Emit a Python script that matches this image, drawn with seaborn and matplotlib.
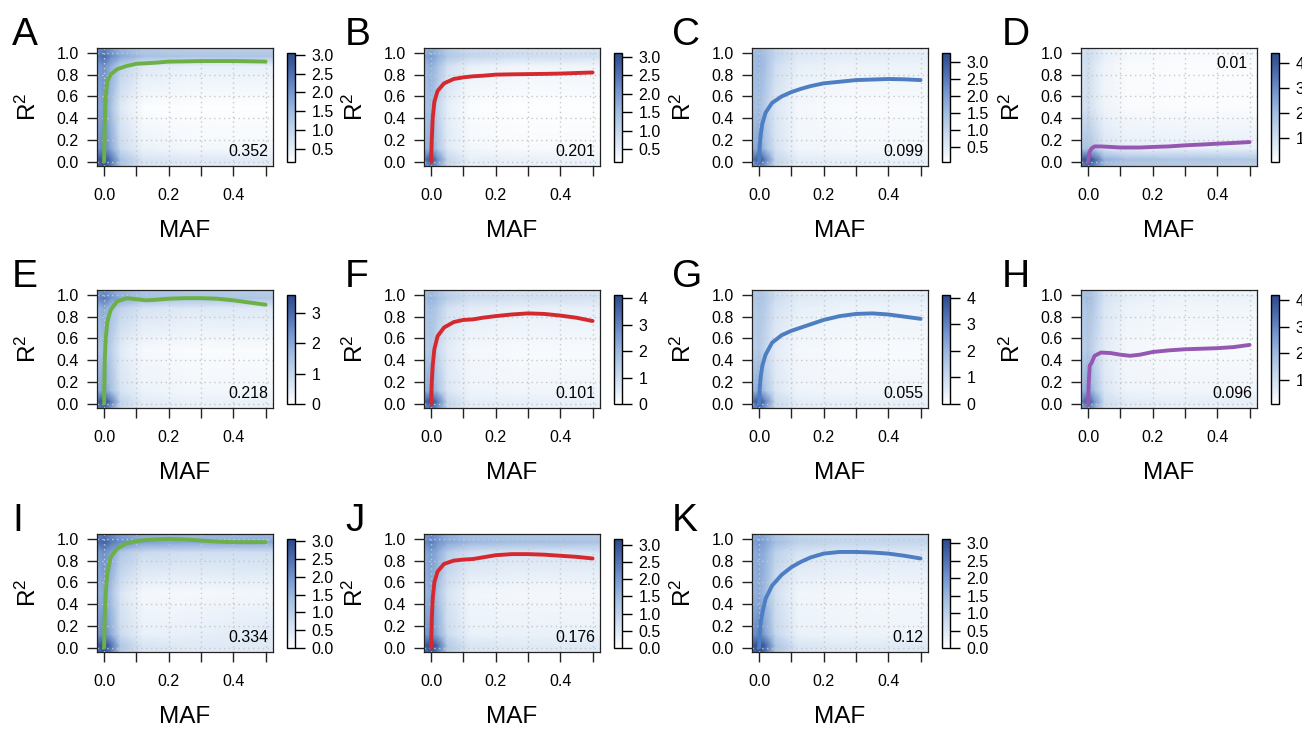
import numpy as np
import matplotlib
matplotlib.use("Agg")
import matplotlib.pyplot as plt
import seaborn as sns
from matplotlib.colors import LinearSegmentedColormap

sns.set_style("white")
plt.rcParams["font.family"] = ["Liberation Sans", "DejaVu Sans"]
plt.rcParams["mathtext.fontset"] = "custom"
plt.rcParams["mathtext.rm"] = "Liberation Sans"
plt.rcParams["mathtext.it"] = "Liberation Sans"
plt.rcParams["text.color"] = "black"
plt.rcParams["xtick.color"] = "black"
plt.rcParams["ytick.color"] = "black"

# panel names, fitted-curve colours and the number printed in each panel
letters = ["A", "B", "C", "D", "E", "F", "G", "H", "I", "J", "K"]
curve_colors = ["#6CB046", "#D42A2F", "#4C7EC1", "#9657B2",
                "#6CB046", "#D42A2F", "#4C7EC1", "#9657B2",
                "#6CB046", "#D42A2F", "#4C7EC1"]
notes = ["0.352", "0.201", "0.099", "0.01", "0.218", "0.101",
         "0.055", "0.096", "0.334", "0.176", "0.12"]

cbar_lo = [0.15, 0.15, 0.05, 0.03, 0.0, 0.0, 0.0, 0.1, 0.0, 0.0, 0.0]
cbar_hi = [3.05, 3.1, 3.25, 4.4, 3.6, 4.13, 4.1, 4.2, 3.07, 3.17, 3.12]
half_ticks = [0.5, 1.0, 1.5, 2.0, 2.5, 3.0]
half_ticks0 = [0.0, 0.5, 1.0, 1.5, 2.0, 2.5, 3.0]
cbar_ticks = [half_ticks, half_ticks, half_ticks, [1, 2, 3, 4], [0, 1, 2, 3],
              [0, 1, 2, 3, 4], [0, 1, 2, 3, 4], [1, 2, 3, 4],
              half_ticks0, half_ticks0, half_ticks0]

# fitted curves: R2 at these MAF values
curve_x = [0, 0.002, 0.005, 0.01, 0.02, 0.04, 0.07, 0.1, 0.13, 0.16, 0.2,
           0.25, 0.3, 0.35, 0.4, 0.45, 0.5]
curve_A = [0.0, 0.35, 0.6, 0.74, 0.8, 0.85, 0.88, 0.9, 0.905, 0.91, 0.92,
           0.922, 0.925, 0.925, 0.925, 0.923, 0.92]
curve_B = [0.0, 0.2, 0.4, 0.55, 0.65, 0.72, 0.76, 0.775, 0.785, 0.79, 0.8,
           0.803, 0.805, 0.807, 0.81, 0.815, 0.82]
curve_C = [0.0, 0.15, 0.25, 0.35, 0.45, 0.54, 0.6, 0.64, 0.67, 0.695, 0.72,
           0.735, 0.75, 0.755, 0.76, 0.757, 0.75]
curve_D = [0.0, 0.05, 0.09, 0.12, 0.14, 0.14, 0.135, 0.13, 0.13, 0.13, 0.135,
           0.14, 0.15, 0.157, 0.165, 0.172, 0.18]
curve_E = [0.0, 0.4, 0.6, 0.75, 0.86, 0.94, 0.97, 0.96, 0.95, 0.955, 0.965,
           0.97, 0.97, 0.965, 0.95, 0.93, 0.91]
curve_F = [0.0, 0.2, 0.35, 0.5, 0.62, 0.7, 0.75, 0.77, 0.775, 0.79, 0.805,
           0.82, 0.83, 0.825, 0.81, 0.79, 0.76]
curve_G = [0.0, 0.15, 0.25, 0.35, 0.45, 0.56, 0.63, 0.67, 0.7, 0.73, 0.77,
           0.805, 0.825, 0.83, 0.82, 0.8, 0.78]
curve_H = [0.0, 0.2, 0.35, 0.37, 0.44, 0.47, 0.465, 0.45, 0.44, 0.45, 0.475,
           0.49, 0.5, 0.505, 0.51, 0.52, 0.54]
curve_I = [0.0, 0.3, 0.5, 0.68, 0.83, 0.91, 0.96, 0.98, 0.99, 0.995, 1.0,
           0.995, 0.985, 0.975, 0.97, 0.97, 0.97]
curve_J = [0.0, 0.25, 0.45, 0.6, 0.7, 0.77, 0.8, 0.81, 0.815, 0.83, 0.85,
           0.86, 0.86, 0.855, 0.845, 0.835, 0.82]
curve_K = [0.0, 0.12, 0.23, 0.32, 0.45, 0.57, 0.67, 0.74, 0.79, 0.83, 0.865,
           0.88, 0.88, 0.875, 0.865, 0.845, 0.82]

# smoothed point density, sampled at these MAF / R2 grid nodes (rows = R2, bottom to top)
dens_x = [-0.022, 0.0, 0.02, 0.05, 0.12, 0.25, 0.523]
dens_y = [-0.04, 0.02, 0.12, 0.5, 0.88, 0.97, 1.045]
dens_A = [[2.5, 2.9, 2.3, 1.3, 0.7, 0.55, 0.5],
          [2.7, 3.0, 2.5, 1.4, 0.7, 0.6, 0.55],
          [2.0, 2.3, 1.8, 0.9, 0.4, 0.3, 0.3],
          [1.7, 1.9, 1.4, 0.6, 0.2, 0.18, 0.18],
          [1.9, 2.1, 1.7, 1.1, 0.6, 0.45, 0.45],
          [2.3, 2.6, 2.2, 1.8, 1.4, 1.3, 1.3],
          [2.0, 2.2, 1.9, 1.5, 1.2, 1.1, 1.1]]
dens_B = [[1.8, 2.4, 1.8, 0.9, 0.45, 0.4, 0.4],
          [2.3, 3.05, 2.2, 1.0, 0.5, 0.45, 0.4],
          [1.5, 1.8, 1.3, 0.6, 0.3, 0.25, 0.25],
          [1.3, 1.5, 1.0, 0.5, 0.2, 0.18, 0.18],
          [1.5, 1.7, 1.4, 0.8, 0.45, 0.35, 0.35],
          [1.8, 2.0, 1.7, 1.3, 1.0, 0.85, 0.75],
          [1.5, 1.7, 1.5, 1.1, 0.85, 0.75, 0.65]]
dens_C = [[1.8, 2.4, 1.9, 0.9, 0.4, 0.35, 0.35],
          [2.4, 3.2, 2.4, 1.0, 0.45, 0.4, 0.35],
          [1.6, 2.0, 1.4, 0.7, 0.25, 0.2, 0.2],
          [1.3, 1.5, 1.1, 0.6, 0.2, 0.15, 0.15],
          [1.4, 1.6, 1.4, 0.8, 0.4, 0.3, 0.3],
          [1.4, 1.6, 1.4, 1.0, 0.55, 0.45, 0.4],
          [1.3, 1.5, 1.3, 0.9, 0.5, 0.4, 0.35]]
dens_D = [[3.0, 3.6, 3.0, 1.9, 1.6, 1.5, 1.4],
          [3.8, 4.4, 3.8, 2.3, 1.9, 1.8, 1.7],
          [1.7, 1.9, 1.5, 0.8, 0.55, 0.5, 0.5],
          [0.9, 1.0, 0.7, 0.35, 0.15, 0.12, 0.12],
          [0.9, 1.0, 0.7, 0.35, 0.15, 0.12, 0.12],
          [1.0, 1.1, 0.9, 0.5, 0.25, 0.2, 0.2],
          [0.9, 1.0, 0.8, 0.45, 0.2, 0.15, 0.15]]
dens_E = [[2.4, 3.0, 2.2, 0.9, 0.45, 0.35, 0.35],
          [3.0, 3.6, 2.8, 1.1, 0.45, 0.35, 0.35],
          [1.8, 2.2, 1.6, 0.7, 0.3, 0.2, 0.2],
          [1.4, 1.6, 1.2, 0.5, 0.15, 0.1, 0.1],
          [1.7, 2.0, 1.6, 1.1, 0.7, 0.55, 0.55],
          [2.4, 2.8, 2.4, 2.0, 1.6, 1.5, 1.4],
          [2.1, 2.4, 2.1, 1.7, 1.4, 1.3, 1.2]]
dens_F = [[2.6, 3.4, 2.6, 1.1, 0.5, 0.4, 0.4],
          [3.4, 4.1, 3.2, 1.2, 0.5, 0.45, 0.4],
          [2.0, 2.4, 1.7, 0.7, 0.3, 0.25, 0.25],
          [1.4, 1.6, 1.1, 0.55, 0.2, 0.15, 0.15],
          [1.6, 1.8, 1.5, 0.9, 0.55, 0.45, 0.45],
          [1.8, 2.1, 1.8, 1.4, 1.0, 0.9, 0.8],
          [1.6, 1.9, 1.6, 1.2, 0.9, 0.8, 0.7]]
dens_G = [[2.4, 3.2, 2.4, 1.0, 0.5, 0.4, 0.4],
          [3.2, 4.1, 3.0, 1.1, 0.5, 0.45, 0.4],
          [1.9, 2.3, 1.6, 0.7, 0.3, 0.25, 0.25],
          [1.3, 1.5, 1.1, 0.55, 0.2, 0.15, 0.15],
          [1.4, 1.6, 1.4, 0.8, 0.45, 0.35, 0.35],
          [1.5, 1.7, 1.5, 1.0, 0.6, 0.5, 0.5],
          [1.4, 1.6, 1.4, 0.9, 0.5, 0.4, 0.4]]
dens_H = [[2.2, 3.0, 2.2, 1.0, 0.6, 0.5, 0.5],
          [3.0, 4.1, 2.8, 1.1, 0.65, 0.55, 0.55],
          [2.0, 2.5, 1.8, 0.8, 0.4, 0.35, 0.35],
          [1.4, 1.6, 1.2, 0.65, 0.3, 0.25, 0.25],
          [1.5, 1.8, 1.5, 0.8, 0.45, 0.35, 0.35],
          [1.7, 2.0, 1.6, 0.9, 0.55, 0.45, 0.45],
          [1.6, 1.8, 1.5, 0.8, 0.5, 0.4, 0.4]]
dens_I = [[2.4, 2.9, 2.3, 1.1, 0.55, 0.45, 0.45],
          [2.7, 3.07, 2.6, 1.2, 0.55, 0.45, 0.45],
          [1.9, 2.2, 1.7, 0.8, 0.3, 0.3, 0.45],
          [1.5, 1.7, 1.3, 0.55, 0.15, 0.12, 0.2],
          [1.8, 2.1, 1.8, 1.2, 0.8, 0.7, 0.7],
          [2.4, 2.7, 2.4, 2.1, 1.8, 1.7, 1.7],
          [2.1, 2.4, 2.1, 1.8, 1.5, 1.4, 1.4]]
dens_J = [[2.4, 3.0, 2.3, 1.1, 0.55, 0.45, 0.45],
          [2.8, 3.17, 2.7, 1.2, 0.55, 0.45, 0.45],
          [1.9, 2.2, 1.7, 0.8, 0.3, 0.3, 0.3],
          [1.5, 1.7, 1.3, 0.6, 0.2, 0.15, 0.15],
          [1.7, 2.0, 1.7, 1.1, 0.7, 0.6, 0.6],
          [2.1, 2.4, 2.1, 1.8, 1.5, 1.4, 1.3],
          [1.9, 2.1, 1.9, 1.6, 1.3, 1.2, 1.1]]
dens_K = [[2.5, 3.0, 2.4, 1.2, 0.55, 0.45, 0.45],
          [2.8, 3.12, 2.7, 1.3, 0.55, 0.45, 0.45],
          [2.0, 2.3, 1.8, 0.9, 0.3, 0.25, 0.25],
          [1.5, 1.7, 1.4, 0.7, 0.2, 0.15, 0.15],
          [1.6, 1.8, 1.6, 1.0, 0.6, 0.5, 0.5],
          [1.8, 2.0, 1.8, 1.4, 1.0, 0.9, 0.9],
          [1.6, 1.8, 1.6, 1.2, 0.9, 0.8, 0.8]]

curves = [curve_A, curve_B, curve_C, curve_D, curve_E, curve_F,
          curve_G, curve_H, curve_I, curve_J, curve_K]
dens = [dens_A, dens_B, dens_C, dens_D, dens_E, dens_F,
        dens_G, dens_H, dens_I, dens_J, dens_K]

cmap = LinearSegmentedColormap.from_list(
    "smooth_blues",
    [(0.0, "#ffffff"), (0.1, "#e8f0f9"), (0.25, "#cbdbef"),
     (0.45, "#a2bee2"), (0.65, "#7296ce"), (0.85, "#4667aa"), (1.0, "#2c4a8c")])

W, H = 1302, 730
fig = plt.figure(figsize=(W / 100, H / 100), dpi=100)


def px_box(left, top, w, h):
    return [left / W, 1 - (top + h) / H, w / W, h / H]


col_left = [97, 424, 752, 1081]
row_top = [48, 290, 534]
letter_x = [12, 345, 672, 1002]
ax_w, ax_h = 176, 118
edge = "#222222"

X, Y = np.meshgrid(dens_x, dens_y)

for i, name in enumerate(letters):
    r, c = divmod(i, 4)
    left, top = col_left[c], row_top[r]
    ax = fig.add_axes(px_box(left, top, ax_w, ax_h))
    mesh = ax.pcolormesh(X, Y, np.array(dens[i]), shading="gouraud", cmap=cmap,
                         vmin=cbar_lo[i], vmax=cbar_hi[i], rasterized=True)
    for gx in [0, 0.1, 0.2, 0.3, 0.4, 0.5]:
        ax.axvline(gx, color="#c8c8c8", lw=1, ls=(0, (1, 2.5)), zorder=2)
    for gy in [0, 0.2, 0.4, 0.6, 0.8, 1.0]:
        ax.axhline(gy, color="#c8c8c8", lw=1, ls=(0, (1, 2.5)), zorder=2)
    sns.lineplot(x=curve_x, y=curves[i], color=curve_colors[i], lw=2.8, ax=ax, zorder=3)
    ax.set_xlim(-0.022, 0.523)
    ax.set_ylim(-0.04, 1.045)
    ax.set_xticks([0, 0.1, 0.2, 0.3, 0.4, 0.5])
    ax.set_xticklabels(["0.0", "", "0.2", "", "0.4", ""])
    ax.set_yticks([0, 0.2, 0.4, 0.6, 0.8, 1.0])
    ax.set_yticklabels(["0.0", "0.2", "0.4", "0.6", "0.8", "1.0"])
    ax.tick_params(direction="out", length=7, width=1, color=edge,
                   labelsize=11.5, bottom=True, left=True)
    ax.tick_params(axis="x", pad=9)
    ax.tick_params(axis="y", pad=6)
    for s in ax.spines.values():
        s.set_color(edge)
        s.set_linewidth(0.9)
    if name == "D":
        ax.text(0.495, 0.9, notes[i], ha="right", va="center", fontsize=11.5)
    else:
        ax.text(0.508, 0.095, notes[i], ha="right", va="center", fontsize=11.5)

    # axis titles and panel letter
    fig.text((left + ax_w / 2) / W, 1 - (top + 183) / H, "MAF",
             ha="center", va="center", fontsize=17.5)
    fig.text((left - 69) / W, 1 - (top + ax_h / 2) / H, r"R$^{2}$",
             ha="center", va="center", rotation=90, fontsize=17.5)
    fig.text(letter_x[c] / W, 1 - (top - 3) / H, name,
             ha="left", va="baseline", fontsize=28)

    # colour legend (labels of the right-most column run off the page, as in the source)
    cax = fig.add_axes(px_box(left + 190, top + 5, 8, 109))
    cb = fig.colorbar(mesh, cax=cax)
    cb.set_ticks(cbar_ticks[i])
    if len(cbar_ticks[i]) > 5:
        cb.set_ticklabels([f"{t:.1f}" for t in cbar_ticks[i]])
    else:
        cb.set_ticklabels([f"{t:d}" for t in cbar_ticks[i]])
    cb.outline.set_edgecolor("black")
    cb.outline.set_linewidth(1)
    cax.tick_params(length=7, width=1, color="black", labelsize=11.5, pad=5)

fig.savefig("out.png", dpi=100)
